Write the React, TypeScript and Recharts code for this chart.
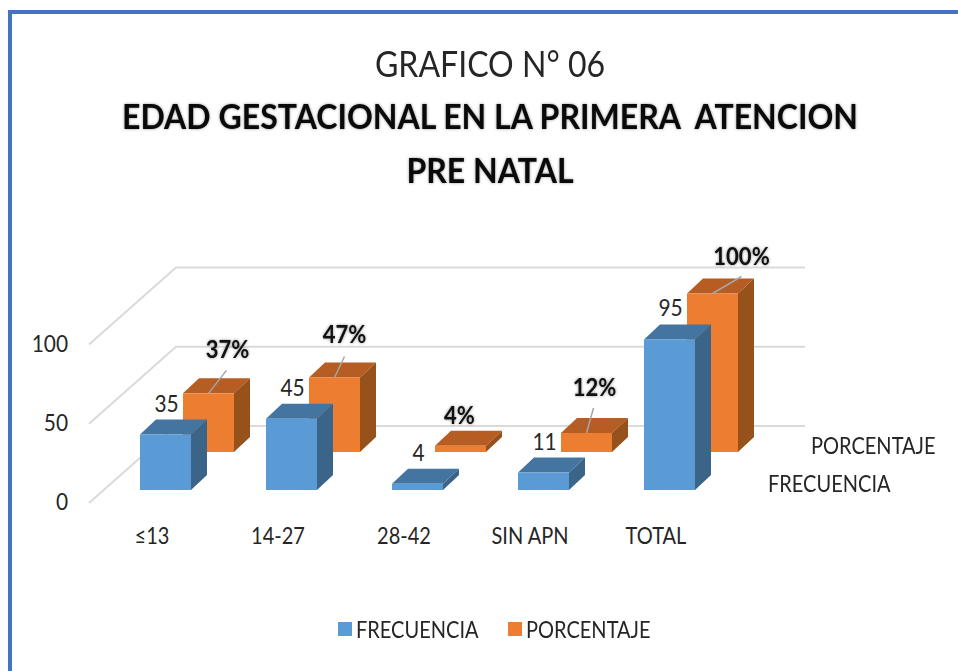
import { Bar, BarChart, CartesianGrid, LabelList, Legend, XAxis, YAxis } from "recharts";

const categories = ["≤13", "14-27", "28-42", "SIN APN", "TOTAL"];
const frecuencia = [35, 45, 4, 11, 95];
const porcentaje = [37, 47, 4, 12, 100];
const yTicks = [0, 50, 100];

const data = categories.map((name, i) => ({
  name,
  FRECUENCIA: frecuencia[i],
  PORCENTAJE: porcentaje[i],
}));

// hand placed data labels of the percent series: label offset and leader end from the bar top
const pctLabels = [
  { dx: 19, dy: -43, lx: 18, ly: -23 },
  { dx: 10, dy: -43, lx: 10, ly: -21 },
  { dx: -1, dy: -30, lx: 0, ly: 0 },
  { dx: 8, dy: -45, lx: 7, ly: -25 },
  { dx: 29, dy: -37, lx: 29, ly: -17 },
];

const FONT = "Lato, sans-serif";
const TEXT = "#262626";
const DEPTH_X = 16;
const DEPTH_Y = 15;
// Lato is wider than the original font, so it is squeezed a little
const SQUEEZE = 0.87;

// 300px plot, 1.585px per unit, the other two floors are lifted with the domain
const PX = 1.585;
const frontDomain = [0, 300 / PX];
const backDomain = [-38 / PX, (300 - 38) / PX];
const wallDomain = [-64 / PX, (300 - 64) / PX];

const Box = ({ x, y, width, height, front, top, side }: any) => {
  const r = x + width;
  const b = y + height;
  return (
    <g>
      <polygon
        points={`${x},${y} ${x + DEPTH_X},${y - DEPTH_Y} ${r + DEPTH_X},${y - DEPTH_Y} ${r},${y}`}
        fill={top}
      />
      <polygon
        points={`${r},${y} ${r + DEPTH_X},${y - DEPTH_Y} ${r + DEPTH_X},${b - DEPTH_Y} ${r},${b}`}
        fill={side}
      />
      <rect x={x} y={y} width={width} height={height} fill={front} />
    </g>
  );
};

const GridLine = ({ y1 }: any) => (
  <polyline
    points={`89,${y1 + 77} 176,${y1} 805,${y1}`}
    fill="none"
    stroke="#DADADA"
    strokeWidth={2}
  />
);

const Squeezed = ({ x, y, anchor = "middle", size = 24, sx = SQUEEZE, children, ...rest }: any) => (
  <text
    transform={`translate(${x},${y}) scale(${sx},1)`}
    textAnchor={anchor}
    fontFamily={FONT}
    fontSize={size}
    fill={TEXT}
    {...rest}
  >
    {children}
  </text>
);

const FreqLabel = ({ x, y, width, value }: any) => (
  <Squeezed x={x + width / 2 + 1} y={y - 23}>
    {value}
  </Squeezed>
);

const PctLabel = ({ x, y, width, value, index }: any) => {
  const c = x + width / 2;
  const l = pctLabels[index];
  return (
    <g>
      {l.ly !== 0 && (
        <line x1={c} y1={y} x2={c + l.lx} y2={y + l.ly} stroke="#A6A6A6" strokeWidth={1.5} />
      )}
      <Squeezed
        x={c + l.dx}
        y={y + l.dy + 8}
        sx={0.92}
        fontWeight={700}
        fill="#111"
        style={{ filter: "drop-shadow(0 0 1.5px rgba(0,0,0,.45))" }}
      >
        {value}%
      </Squeezed>
    </g>
  );
};

const XTick = ({ x, y, payload }: any) => (
  <Squeezed x={x - 13} y={y + 16} size={23}>
    {payload.value}
  </Squeezed>
);

const YTick = ({ y, payload }: any) => (
  <Squeezed x={68} y={y + 20} anchor="end">
    {payload.value}
  </Squeezed>
);

const boldTitle = {
  position: "absolute" as const,
  left: 0,
  width: 980,
  textAlign: "center" as const,
  fontFamily: FONT,
  fontWeight: 700,
  fontSize: 35,
  color: "#0a0a0a",
  whiteSpace: "pre" as const,
  textShadow: "0 0 3px rgba(0,0,0,.45)",
  transform: "scaleX(0.915)",
};

const seriesName = {
  position: "absolute" as const,
  fontFamily: FONT,
  fontSize: 23,
  color: TEXT,
  whiteSpace: "nowrap" as const,
  transform: `scaleX(${SQUEEZE})`,
  transformOrigin: "left",
};

export default function App() {
  return (
    <div style={{ position: "absolute", left: 0, top: 0, width: 958, height: 671, background: "#fff", overflow: "hidden" }}>
      <div
        style={{
          position: "absolute",
          left: 8,
          top: 10,
          width: 950,
          height: 661,
          boxSizing: "border-box",
          borderTop: "4px solid #4472C4",
          borderLeft: "4px solid #4472C4",
        }}
      />
      <div style={{ ...boldTitle, top: 41, fontWeight: 400, fontSize: 36, textShadow: "none", color: TEXT, transform: "scaleX(0.89)" }}>
        GRAFICO N° 06
      </div>
      <div style={{ ...boldTitle, top: 94 }}>EDAD GESTACIONAL EN LA PRIMERA  ATENCION</div>
      <div style={{ ...boldTitle, top: 148 }}>PRE NATAL</div>

      <BarChart
        width={958}
        height={671}
        data={data}
        barSize={51}
        margin={{ top: 190, right: 183, bottom: 151, left: 42 }}
        style={{ position: "absolute", left: 0, top: 0 }}
      >
        <CartesianGrid
          xAxisId="front"
          yAxisId="wall"
          vertical={false}
          horizontal={(props: any) => <GridLine key={props.index} {...props} />}
          horizontalValues={yTicks}
        />
        <XAxis
          xAxisId="front"
          dataKey="name"
          height={30}
          padding={{ left: 0, right: 43 }}
          axisLine={false}
          tickLine={false}
          tick={<XTick />}
          interval={0}
        />
        <XAxis xAxisId="back" dataKey="name" hide padding={{ left: 43, right: 0 }} />
        <YAxis
          yAxisId="front"
          width={60}
          domain={frontDomain}
          ticks={yTicks}
          allowDataOverflow
          axisLine={false}
          tickLine={false}
          tick={<YTick />}
        />
        <YAxis yAxisId="back" hide domain={backDomain} allowDataOverflow />
        <YAxis yAxisId="wall" hide domain={wallDomain} ticks={yTicks} allowDataOverflow />

        <Bar
          xAxisId="back"
          yAxisId="back"
          dataKey="PORCENTAJE"
          fill="#ED7D31"
          isAnimationActive={false}
          shape={(p: any) => <Box {...p} front="#ED7D31" top="#B55D22" side="#97521B" />}
        >
          <LabelList dataKey="PORCENTAJE" content={<PctLabel />} />
        </Bar>
        <Bar
          xAxisId="front"
          yAxisId="front"
          dataKey="FRECUENCIA"
          fill="#5B9BD5"
          isAnimationActive={false}
          shape={(p: any) => <Box {...p} front="#5B9BD5" top="#4475A1" side="#3A6589" />}
        >
          <LabelList dataKey="FRECUENCIA" content={<FreqLabel />} />
        </Bar>

        <Legend
          layout="horizontal"
          verticalAlign="middle"
          align="center"
          iconType="square"
          iconSize={14}
          formatter={(value: string) => (
            <span
              style={{
                display: "inline-block",
                width: value === "FRECUENCIA" ? 142 : 126,
                color: TEXT,
                fontFamily: FONT,
                fontSize: 23,
                whiteSpace: "nowrap",
                textAlign: "left",
                transform: `scaleX(${SQUEEZE})`,
                transformOrigin: "left",
                verticalAlign: "middle",
              }}
            >
              {value}
            </span>
          )}
          wrapperStyle={{ left: 338, top: 615, width: 324 }}
        />
      </BarChart>

      <div style={{ ...seriesName, left: 811, top: 431 }}>PORCENTAJE</div>
      <div style={{ ...seriesName, left: 768, top: 469 }}>FRECUENCIA</div>
    </div>
  );
}
